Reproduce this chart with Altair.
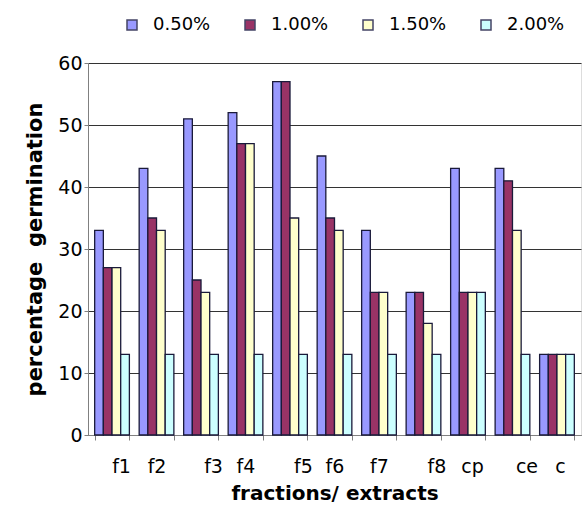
import altair as alt
import pandas as pd

# Germination (%) for each fraction/extract at four concentrations
groups = ["f1", "f2", "f3", "f4", "f5", "f6", "f7", "f8", "cp", "ce", "c"]
conc = ["0.50%", "1.00%", "1.50%", "2.00%"]
v050 = [33, 43, 51, 52, 57, 45, 33, 23, 43, 43, 13]
v100 = [27, 35, 25, 47, 57, 35, 23, 23, 23, 41, 13]
v150 = [27, 33, 23, 47, 35, 33, 23, 18, 23, 33, 13]
v200 = [13, 13, 13, 13, 13, 13, 13, 13, 23, 13, 13]
colors = ["#9999FF", "#993366", "#FFFFCC", "#CCFFFF"]

rows = []
for c, vals in zip(conc, [v050, v100, v150, v200]):
    for g, v in zip(groups, vals):
        rows.append({"group": g, "conc": c, "value": v})
df = pd.DataFrame(rows)

FONT = "DejaVu Sans"

# category labels sit slightly right of some cluster centres
label_shift = (
    "datum.value == 'f1' ? 9 : datum.value == 'f3' ? 12 : datum.value == 'f5' ? 13 : "
    "datum.value == 'f8' ? 13 : datum.value == 'ce' ? 14 : datum.value == 'cp' ? 4 : "
    "datum.value == 'c' ? 3 : 0"
)

bars = alt.Chart(df).mark_bar(stroke="#1a1a3a", strokeWidth=1.3).encode(
    x=alt.X("group:N", sort=groups,
            scale=alt.Scale(paddingInner=0.22, paddingOuter=0.15),
            axis=alt.Axis(title="fractions/ extracts", labelAngle=0,
                          tickBand="extent", labelFontSize=19, labelFont=FONT,
                          labelOffset={"expr": label_shift},
                          titleFontSize=20, titleFont=FONT, titleFontWeight="bold",
                          labelColor="#000000", titleColor="#000000",
                          domainColor="#808080", tickColor="#808080",
                          tickSize=5, labelPadding=17, titlePadding=7)),
    xOffset=alt.XOffset("conc:N", sort=conc),
    y=alt.Y("value:Q",
            scale=alt.Scale(domain=[0, 60], nice=False),
            axis=alt.Axis(title="percentage \u00a0germination", values=[0, 10, 20, 30, 40, 50, 60],
                          labelFontSize=19, labelFont=FONT, labelColor="#000000",
                          titleFontSize=21, titleFont=FONT, titleFontWeight="bold",
                          titleColor="#000000", titlePadding=12,
                          domainColor="#808080", tickColor="#808080", tickSize=4,
                          grid=True, gridColor="#333333", gridWidth=1.2)),
    color=alt.Color("conc:N", sort=conc,
                    scale=alt.Scale(domain=conc, range=colors),
                    legend=alt.Legend(title=None, orient="none", direction="horizontal",
                                      legendX=35, legendY=-47,
                                      symbolType="square", symbolSize=100,
                                      symbolStrokeColor="#444466", symbolStrokeWidth=1.5,
                                      labelFontSize=18, labelFont=FONT, labelColor="#000000",
                                      columnPadding=30, labelOffset=12)),
)

chart = bars.properties(
    width=493, height=372,
    autosize=alt.AutoSizeParams(type="none"),
    padding={"left": 88, "top": 63, "right": 4, "bottom": 77},
).configure_view(
    fill="#C0C0C0", stroke="#A0A0A0", strokeWidth=1.5
).configure(background="#FFFFFF")

chart.save("out.html", embed_options={"renderer": "svg", "actions": False})
